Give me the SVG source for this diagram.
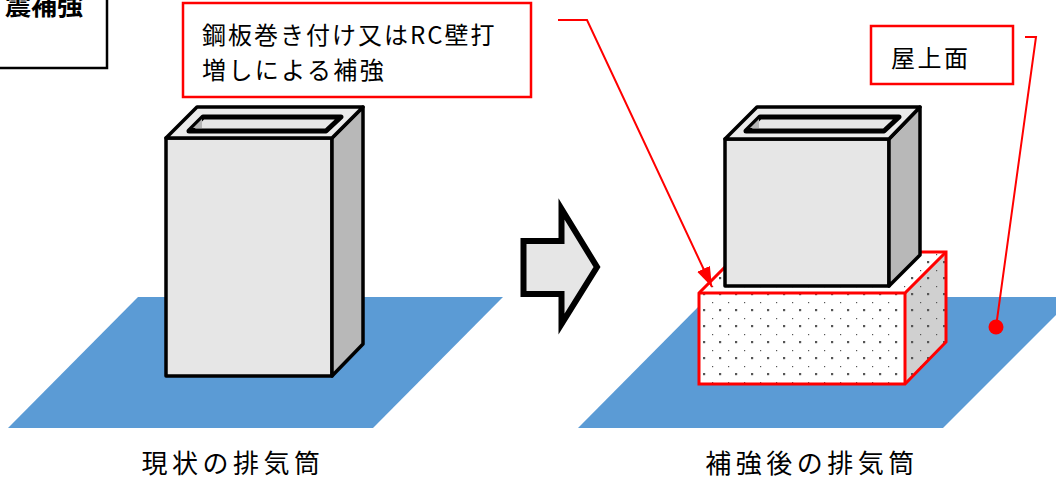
<svg xmlns="http://www.w3.org/2000/svg" width="1056" height="481" viewBox="0 0 1056 481">
  <style>
    .floor { fill: #5B9BD5; }
    .front { fill: #E6E6E6; stroke: #000; stroke-width: 3.5; stroke-linejoin: round; }
    .side { fill: #B8B8B8; stroke: #000; stroke-width: 3.5; stroke-linejoin: round; }
    .rim { fill: #EBEBEB; stroke: #000; stroke-width: 3.5; stroke-linejoin: round; }
    .hole { fill: #E6E6E6; stroke: #000; stroke-width: 5; stroke-linejoin: round; }
    .wall { fill: #B5B5B5; }
    .rc { fill: none; stroke: #FF0000; stroke-width: 3; stroke-linejoin: miter; }
    .callout { fill: #FFFFFF; stroke: #FF0000; stroke-width: 2.5; }
    .leader { fill: none; stroke: #FF0000; stroke-width: 2; }
    .label { font-family: "Noto Sans CJK JP", "Noto Sans", sans-serif; fill: #000; }
  </style>
  <defs>
    <pattern id="dots" patternUnits="userSpaceOnUse" x="8" y="14" width="16" height="16">
      <rect x="-1" y="-1" width="2.2" height="2.2" fill="#555"/>
      <rect x="7" y="7" width="2.2" height="2.2" fill="#555"/>
    </pattern>
    <marker id="head" markerUnits="userSpaceOnUse" markerWidth="22" markerHeight="16" refX="20" refY="7" orient="auto">
      <path d="M0,0 L20,7 L0,14 z" fill="#FF0000"/>
    </marker>
  </defs>

  <!-- title box, partly off the top-left edge -->
  <g id="title">
    <rect x="-10" y="-10" width="117" height="78" fill="#FFFFFF" stroke="#000" stroke-width="2.5"/>
    <text class="label" x="83" y="15" font-size="26" font-weight="bold" text-anchor="end">震補強</text>
  </g>

  <!-- existing stack -->
  <g id="before">
    <polygon class="floor" points="138,297 503,297 373,428 8,428"/>
    <polygon class="front" points="166,138 332,138 332,376 166,376"/>
    <polygon class="side" points="332,138 363,107 363,344 332,376"/>
    <polygon class="rim" points="166,138 197,107 363,107 332,138"/>
    <polygon class="hole" points="189,131 203,117 341,117 326,131"/>
    <polygon class="wall" points="193,128 202,119 202,128"/>
    <text class="label" x="233" y="473" font-size="26" letter-spacing="4.5" text-anchor="middle">現状の排気筒</text>
  </g>

  <!-- transition arrow -->
  <g id="arrow">
    <polygon points="523.5,241 561.5,241 561.5,209 597,267 561.5,324 561.5,294 523.5,294" fill="#E6E6E6" stroke="#000" stroke-width="6" stroke-linejoin="miter"/>
  </g>

  <!-- reinforced stack -->
  <g id="after">
    <polygon class="floor" points="708,297 1074,297 943,428 578,428"/>
    <!-- RC / steel-plate jacket around the base -->
    <g id="jacket">
      <polygon points="699,293 740,252 946,252 905,293" fill="#FFFFFF"/>
      <polygon points="699,293 740,252 946,252 905,293" fill="url(#dots)"/>
      <polygon points="699,293 905,293 905,384 699,384" fill="#FFFFFF"/>
      <polygon points="699,293 905,293 905,384 699,384" fill="url(#dots)"/>
      <polygon points="905,293 946,252 946,342 905,384" fill="#D0D0D0"/>
      <polygon points="905,293 946,252 946,342 905,384" fill="url(#dots)"/>
      <polygon class="rc" points="699,293 740,252 946,252 946,342 905,384 699,384"/>
      <polyline class="rc" points="699,293 905,293 946,252"/>
      <line class="rc" x1="905" y1="293" x2="905" y2="384"/>
    </g>
    <polygon class="front" points="725,139 889,139 889,286 725,286"/>
    <polygon class="side" points="889,139 920,107 920,255 889,286"/>
    <polygon class="rim" points="725,139 757,107 920,107 889,139"/>
    <polygon class="hole" points="746,131 760,117 899,117 884,131"/>
    <polygon class="wall" points="750,128 759,119 759,128"/>
    <text class="label" x="812" y="473" font-size="26" letter-spacing="4.5" text-anchor="middle">補強後の排気筒</text>
  </g>

  <!-- callout: jacketing -->
  <g id="callout-jacket">
    <rect class="callout" x="183" y="3" width="348" height="94"/>
    <text class="label" x="202" y="44" font-size="24" letter-spacing="2">鋼板巻き付け又はRC壁打</text>
    <text class="label" x="202" y="79" font-size="24" letter-spacing="2.4">増しによる補強</text>
  </g>

  <!-- callout: roof surface -->
  <g id="callout-roof">
    <rect class="callout" x="871" y="26" width="142" height="58"/>
    <text class="label" x="891" y="67" font-size="24" letter-spacing="2.5">屋上面</text>
  </g>

  <!-- leader lines -->
  <g id="connectors">
    <polyline class="leader" points="558,20 587,20 712,287" marker-end="url(#head)"/>
    <polyline class="leader" points="1025,37 1036,37 996,327"/>
    <circle cx="996" cy="327" r="7.5" fill="#FF0000"/>
  </g>
</svg>
